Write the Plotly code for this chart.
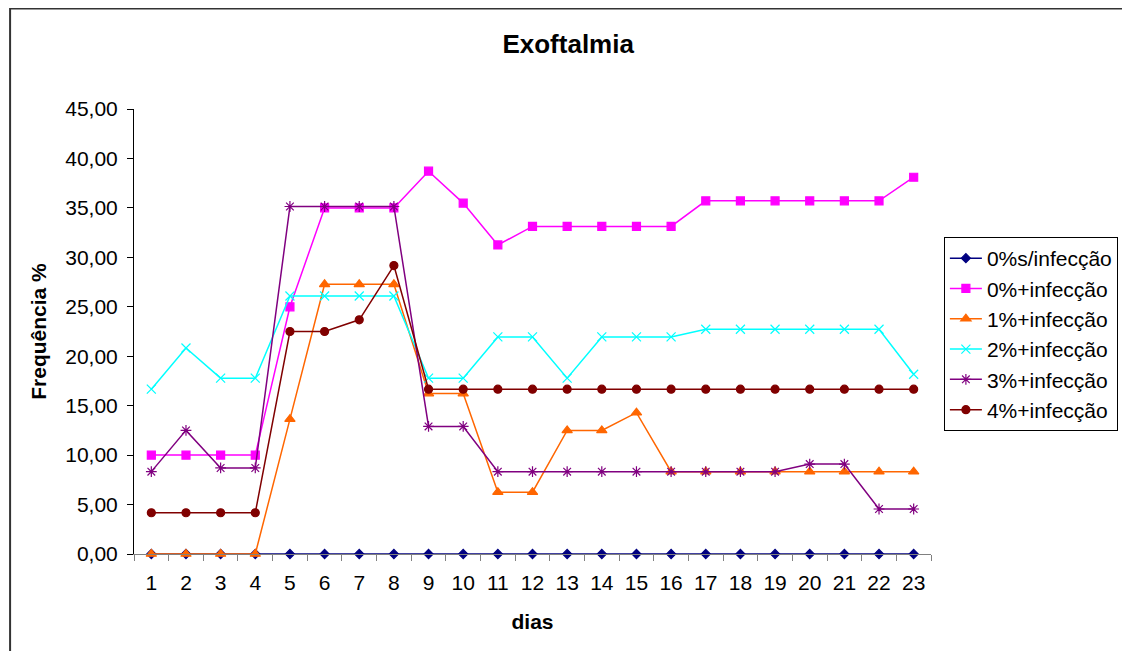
import plotly.graph_objects as go

dias = [str(i) for i in range(1, 24)]

s0_sem = [0.0] * 23
s0_com = [10.0, 10.0, 10.0, 10.0, 25.0, 35.0, 35.0, 35.0, 38.71, 35.48, 31.25, 33.13, 33.13, 33.13,
          33.13, 33.13, 35.71, 35.71, 35.71, 35.71, 35.71, 35.71, 38.1]
s1 = [0.0, 0.0, 0.0, 0.0, 13.64, 27.27, 27.27, 27.27, 16.22, 16.22, 6.25, 6.25, 12.5, 12.5,
      14.29, 8.33, 8.33, 8.33, 8.33, 8.33, 8.33, 8.33, 8.33]
s2 = [16.67, 20.83, 17.78, 17.78, 26.09, 26.09, 26.09, 26.09, 17.78, 17.78, 21.95, 21.95, 17.78, 21.95,
      21.95, 21.95, 22.73, 22.73, 22.73, 22.73, 22.73, 22.73, 18.18]
s3 = [8.33, 12.5, 8.7, 8.7, 35.14, 35.14, 35.14, 35.14, 12.9, 12.9, 8.33, 8.33, 8.33, 8.33,
      8.33, 8.33, 8.33, 8.33, 8.33, 9.09, 9.09, 4.55, 4.55]
s4 = [4.17, 4.17, 4.17, 4.17, 22.5, 22.5, 23.68, 29.17, 16.67, 16.67, 16.67, 16.67, 16.67, 16.67,
      16.67, 16.67, 16.67, 16.67, 16.67, 16.67, 16.67, 16.67, 16.67]

nomes = ["0%s/infecção", "0%+infecção", "1%+infecção", "2%+infecção", "3%+infecção", "4%+infecção"]
series = [s0_sem, s0_com, s1, s2, s3, s4]
cores = ["#000080", "#FF00FF", "#FF6600", "#00FFFF", "#800080", "#800000"]
simbolos = ["diamond", "square", "triangle-up", "x-thin-open", "asterisk-open", "circle"]
tamanhos = [7, 8, 9, 9, 9, 8]

y_ticks = [0, 5, 10, 15, 20, 25, 30, 35, 40, 45]
y_labels = [f"{v:.2f}".replace(".", ",") for v in y_ticks]

FONT = "Liberation Sans, Arial, sans-serif"

# the page body has an 8px margin: figure coords = page coords - 8
W, H = 1122, 643
L, R, T, B = 126, 930, 101, 546  # plot area in figure coords
PW, PH = R - L, B - T

fig = go.Figure()
for nome, vals, cor, sim, tam in zip(nomes, series, cores, simbolos, tamanhos):
    fig.add_trace(go.Scatter(
        x=dias, y=vals, name=nome, mode="lines+markers", cliponaxis=False,
        line=dict(color=cor, width=1.5),
        marker=dict(symbol=sim, size=tam, color=cor, line=dict(color=cor, width=1.2)),
    ))

fig.update_layout(
    template="none",
    width=W, height=H,
    margin=dict(l=L, r=W - R, t=T, b=H - B, pad=0),
    paper_bgcolor="white", plot_bgcolor="white",
    font=dict(family=FONT, size=21, color="black"),
    title=dict(text="<b>Exoftalmia</b>", x=(564 - L) / PW, xref="paper", xanchor="center",
               y=1 - 36 / H, yref="container", yanchor="middle",
               font=dict(family=FONT, size=26, color="black")),
    showlegend=True,
    legend=dict(x=(943 - L) / PW, y=(B - 229) / PH, xanchor="left", yanchor="top",
                bordercolor="black", borderwidth=1, bgcolor="white",
                font=dict(family=FONT, size=21, color="black"),
                itemwidth=32, tracegroupgap=0),
)

fig.update_xaxes(
    type="category", range=[-0.5, 22.5], autorange=False,
    showgrid=False, zeroline=False, automargin=False,
    showline=True, linecolor="#808080", linewidth=1,
    ticks="outside", tickson="boundaries", ticklen=6, tickcolor="#808080",
    ticklabelstandoff=10,
    tickfont=dict(family=FONT, size=21, color="black"),
    title=dict(text="<b>dias</b>", font=dict(family=FONT, size=21, color="black"), standoff=21),
)
fig.update_yaxes(
    range=[0, 45], autorange=False, showgrid=False, zeroline=False, automargin=False,
    showline=True, linecolor="black", linewidth=1,
    ticks="outside", ticklen=6, tickcolor="black",
    ticklabelstandoff=5,
    tickvals=y_ticks, ticktext=y_labels,
    tickfont=dict(family=FONT, size=21, color="black"),
    title=dict(text="<b>Frequência %</b>", font=dict(family=FONT, size=21, color="black"), standoff=12),
)

# chart-area border (Excel-style frame), extends past right/bottom edges
fig.add_shape(type="rect", xref="paper", yref="paper",
              x0=(1 - L) / PW, x1=(W + 20 - L) / PW,
              y0=(B - H - 20) / PH, y1=(B - 0.5) / PH,
              line=dict(color="#333333", width=2), fillcolor="rgba(0,0,0,0)", layer="below")

fig.write_html("out.html")
